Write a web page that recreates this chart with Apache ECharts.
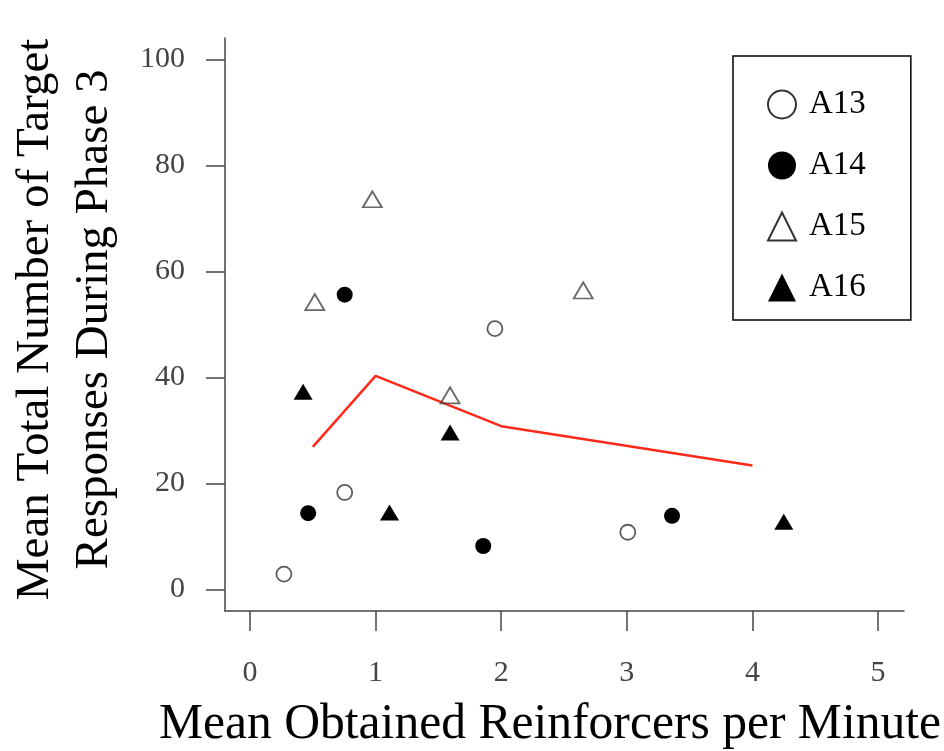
<!DOCTYPE html>
<html>
<head>
<meta charset="utf-8">
<script src="https://cdn.jsdelivr.net/npm/echarts@6/dist/echarts.min.js"></script>
<style>
html,body{margin:0;padding:0;background:#fff;}
#chart{width:944px;height:751px;}
</style>
</head>
<body>
<div id="chart"></div>
<script>
// Data
const a13x = [0.27, 0.754, 1.95, 3.008];
const a13y = [2.9, 18.3, 49.2, 10.8];
const a14x = [0.463, 0.754, 1.857, 3.36];
const a14y = [14.4, 55.6, 8.2, 13.9];
const a15x = [0.516, 0.974, 1.593, 2.653];
const a15y = [54.2, 73.6, 36.6, 56.4];
const a16x = [0.423, 1.111, 1.593, 4.25];
const a16y = [37.3, 14.5, 29.6, 12.8];
const fitX = [0.5, 1, 2, 4];
const fitY = [26.9, 40.3, 30.8, 23.4];
const xTicks = [0, 1, 2, 3, 4, 5];
const yTicks = [0, 20, 40, 60, 80, 100];

const pair = (xs, ys) => xs.map((x, i) => [x, ys[i]]);
const FONT = '"Liberation Serif", "DejaVu Serif", serif';
const AX = '#444';

const chart = echarts.init(document.getElementById('chart'), null, {renderer: 'canvas'});
chart.setOption({
  backgroundColor: '#fff',
  animation: false,
  grid: [
    {left: 225, right: 40, top: 38, bottom: 140, containLabel: false, outerBoundsMode: 'none'},
    {left: 250, right: 66, top: 59.3, bottom: 161.5, containLabel: false, outerBoundsMode: 'none'}
  ],
  xAxis: [
    {gridIndex: 0, type: 'value', min: -0.2, max: 5.2,
     axisLine: {show: true, onZero: false, lineStyle: {color: AX, width: 1.5}},
     axisTick: {show: false}, axisLabel: {show: false}, splitLine: {show: false}},
    {gridIndex: 1, type: 'value', min: xTicks[0], max: xTicks[xTicks.length - 1], interval: 1,
     offset: 21.5,
     axisLine: {show: false, onZero: false},
     axisTick: {show: true, length: 20, lineStyle: {color: AX, width: 1.5}},
     axisLabel: {show: true, margin: 47, fontFamily: FONT, fontSize: 30, color: AX,
                 formatter: v => xTicks.includes(v) ? String(v) : ''},
     splitLine: {show: false},
     name: 'Mean Obtained Reinforcers per Minute', nameLocation: 'middle', nameGap: 89,
     nameTextStyle: {fontFamily: FONT, fontSize: 49.6, color: '#000', padding: [0, 28, 0, 0]}}
  ],
  yAxis: [
    {gridIndex: 0, type: 'value', min: -4, max: 104,
     axisLine: {show: true, onZero: false, lineStyle: {color: AX, width: 1.5}},
     axisTick: {show: false}, axisLabel: {show: false}, splitLine: {show: false}},
    {gridIndex: 1, type: 'value', min: yTicks[0], max: yTicks[yTicks.length - 1], interval: 20,
     offset: 25,
     axisLine: {show: false, onZero: false},
     axisTick: {show: true, length: 19, lineStyle: {color: AX, width: 1.5}},
     axisLabel: {show: true, margin: 40, fontFamily: FONT, fontSize: 30, color: AX},
     splitLine: {show: false},
     name: 'Mean Total Number of Target\nResponses During Phase 3', nameLocation: 'middle', nameGap: 101,
     nameRotate: 90,
     nameTextStyle: {fontFamily: FONT, fontSize: 47, lineHeight: 59, color: '#000', padding: [0, 0, 0, 10]}}
  ],
  legend: {
    orient: 'vertical', left: 733, top: 56,
    padding: [32, 45, 16, 34],
    itemWidth: 28, itemHeight: 28, itemGap: 28,
    borderColor: '#000', borderWidth: 1.5, backgroundColor: '#fff',
    textStyle: {fontFamily: FONT, fontSize: 33, lineHeight: 28, color: '#000', padding: [0, 0, 0, 8]},
    data: [
      {name: 'A13', icon: 'circle', itemStyle: {color: '#fff', borderColor: '#000', borderWidth: 2}},
      {name: 'A14', icon: 'circle'},
      {name: 'A15', icon: 'triangle', itemStyle: {color: '#fff', borderColor: '#000', borderWidth: 2}},
      {name: 'A16', icon: 'triangle'}
    ]
  },
  series: [
    {name: 'fit', type: 'line', xAxisIndex: 1, yAxisIndex: 1, data: pair(fitX, fitY),
     showSymbol: false, symbol: 'none', lineStyle: {color: '#ff2a1a', width: 2.5}, z: 1},
    {name: 'A13', type: 'scatter', xAxisIndex: 1, yAxisIndex: 1, data: pair(a13x, a13y),
     symbol: 'circle', symbolSize: 15,
     itemStyle: {color: '#fff', borderColor: '#333', borderWidth: 1.8}, z: 3},
    {name: 'A14', type: 'scatter', xAxisIndex: 1, yAxisIndex: 1, data: pair(a14x, a14y),
     symbol: 'circle', symbolSize: 16,
     itemStyle: {color: '#000', borderColor: '#000', borderWidth: 0, opacity: 1}, z: 3},
    {name: 'A15', type: 'scatter', xAxisIndex: 1, yAxisIndex: 1, data: pair(a15x, a15y),
     symbol: 'triangle', symbolSize: [19, 16],
     itemStyle: {color: 'rgba(255,255,255,0)', borderColor: '#444', borderWidth: 1.8}, z: 3},
    {name: 'A16', type: 'scatter', xAxisIndex: 1, yAxisIndex: 1, data: pair(a16x, a16y),
     symbol: 'triangle', symbolSize: [19, 16],
     itemStyle: {color: '#000', borderColor: '#000', borderWidth: 0, opacity: 1}, z: 3}
  ]
});
</script>
</body>
</html>
